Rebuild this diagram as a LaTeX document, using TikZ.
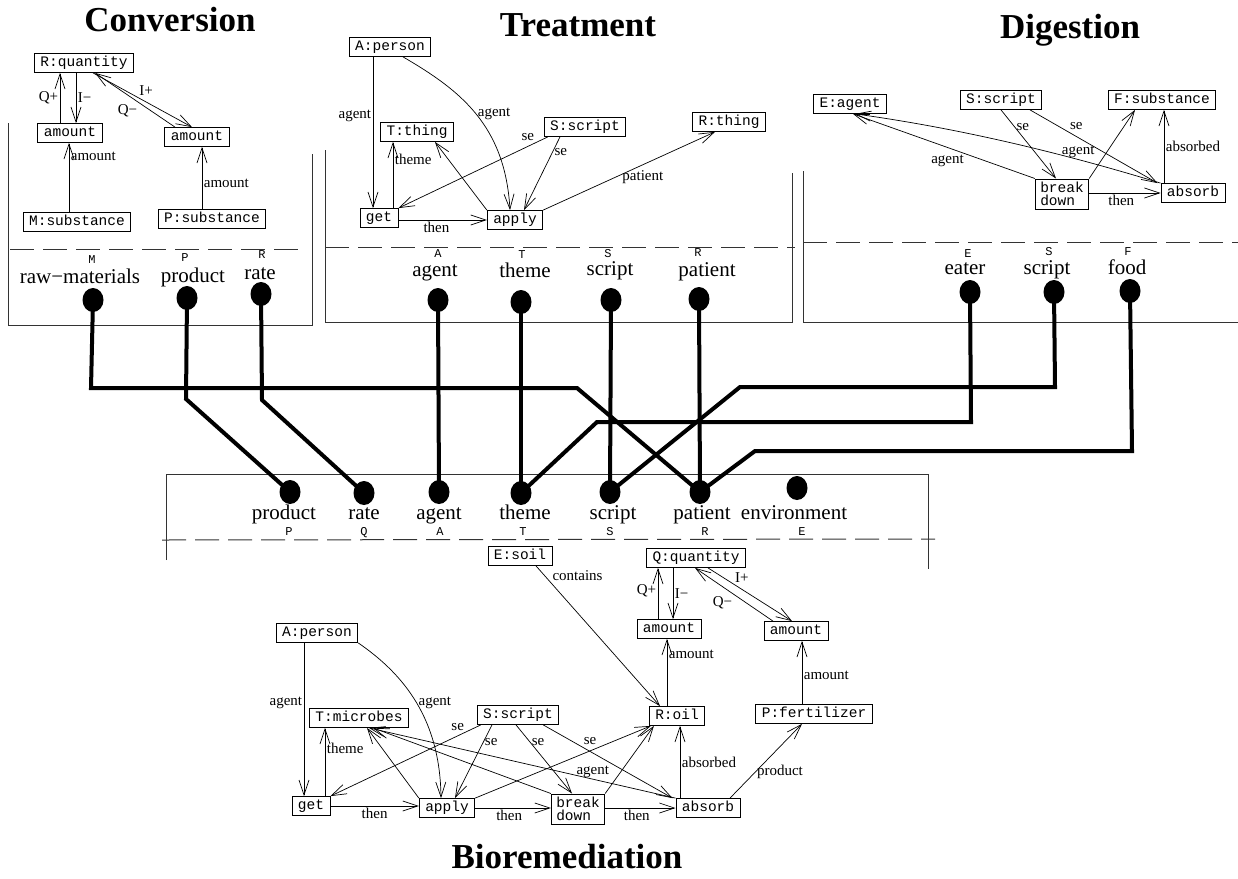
\documentclass[tikz,border=0pt]{standalone}
\usepackage{fontspec}
\setmainfont{Liberation Serif}
\newfontfamily\monof{Liberation Mono}
\usetikzlibrary{arrows.meta,shapes.geometric}
\tikzset{
  lab/.style={font=\fontsize{15}{15}\selectfont, inner sep=1.5pt},
  cbox/.style={draw, line width=0.8pt, font=\monof\fontsize{14.5}{14}\selectfont, inner xsep=6pt, inner ysep=0pt, text height=10pt, text depth=3pt, minimum height=19pt},
  cbox2/.style={draw, line width=0.8pt, font=\monof\fontsize{14.5}{13.5}\selectfont, inner xsep=5pt, inner ysep=3pt, align=left},
  arr/.style={line width=0.7pt, -{Straight Barb[length=15pt,width=10pt]}},
  frm/.style={line width=1pt, black!80},
  dashline/.style={line width=1pt, black!80, dash pattern=on 24pt off 9pt},
  pdot/.style={ellipse, fill=black, inner sep=0pt, minimum width=21pt, minimum height=24pt},
  thk/.style={line width=4pt},
  ltr/.style={font=\monof\fontsize{12}{12}\selectfont, anchor=base, inner sep=0pt},
  bigl/.style={font=\fontsize{21}{21}\selectfont, anchor=base, inner sep=0pt},
  ttl/.style={font=\bfseries\fontsize{35}{35}\selectfont, inner sep=0pt},
}
\begin{document}
\begin{tikzpicture}[x=1pt,y=-1pt]
\useasboundingbox (0,0) rectangle (1238,878);

% ================= Titles
\node[ttl] (t1) at (170,20) {Conversion};
\node[ttl] (t2) at (578,25) {Treatment};
\node[ttl] (t3) at (1070,30) {Digestion};
\node[ttl, anchor=base] (t4) at (567,868) {Bioremediation};

% ================= Conversion
\node[cbox] (rq) at (84,63) {R:quantity};
\node[cbox] (am1) at (70,133) {amount};
\node[cbox] (am2) at (197,137) {amount};
\node[cbox] (ms) at (77,222) {M:substance};
\node[cbox] (ps) at (212,219) {P:substance};
\draw[arr] ([xshift=-10pt]am1.north) -- ([xshift=-10pt]am1.north |- rq.south) node[lab,left,pos=0.5]{Q+};
\draw[arr] ([xshift=6pt]am1.north |- rq.south) -- ([xshift=6pt]am1.north) node[lab,right,pos=0.5]{I−};
\draw[arr] ([xshift=9pt]rq.south) -- ([xshift=-5pt]am2.north) node[lab,above right,pos=0.45]{I+};
\draw[arr] ([xshift=-22pt]am2.north) -- ([xshift=11pt]rq.south) node[lab,below left,pos=0.45]{Q−};
\draw[arr] ([xshift=-8pt]ms.north) -- ([xshift=-8pt]ms.north |- am1.south) node[lab,right,pos=0.8]{amount};
\draw[arr] ([xshift=-10pt]ps.north) -- ([xshift=-10pt]ps.north |- am2.south) node[lab,right,pos=0.42]{amount};
\draw[frm] (8,123) -- (8,325) -- (312,325) -- (312,154);
\draw[dashline] (10,249) -- (302,249);
\node[ltr] (cM) at (92,263) {M};
\node[bigl] (cRM) at (80,283) {raw−materials};
\node[ltr] (cP) at (185,261) {P};
\node[bigl] (cPR) at (193,282) {product};
\node[ltr] (cR) at (262,258) {R};
\node[bigl] (cRA) at (260,279) {rate};
\node[pdot] (cdm) at (93,300) {};
\node[pdot] (cdp) at (187,298) {};
\node[pdot] (cdr) at (261,294) {};

% ================= Treatment
\node[cbox] (tap) at (390,47) {A:person};
\node[cbox] (ttt) at (417,132) {T:thing};
\node[cbox] (tss) at (585,127) {S:script};
\node[cbox] (trt) at (729,122) {R:thing};
\node[cbox] (tgt) at (379,218) {get};
\node[cbox] (tapl) at (515,220) {apply};
\draw[arr] ([xshift=-6pt]tgt.north |- tap.south) -- ([xshift=-6pt]tgt.north) node[lab,left,pos=0.39]{agent};
\draw[arr] ([xshift=13pt]tap.south) .. controls (460,90) and (505,125) .. ([xshift=-5pt]tapl.north) node[lab,right,pos=0.5]{agent};
\draw[arr] ([xshift=14pt]tgt.north) -- ([xshift=14pt]tgt.north |- ttt.south) node[lab,right,pos=0.74]{theme};
\draw[arr] (tapl.north west) -- ([xshift=18pt]ttt.south);
\draw[arr] ([xshift=4pt]tss.south west) -- (tgt.north east) node[lab,above left,pos=0.08]{se};
\draw[arr] ([xshift=-25pt]tss.south) -- ([xshift=9pt]tapl.north) node[lab,right,pos=0.2]{se};
\draw[arr] (tapl.north east) -- ([xshift=-14pt]trt.south) node[lab,below=4pt,pos=0.58]{patient};
\draw[arr] (tgt.east |- tapl.west) -- (tapl.west) node[lab,below,pos=0.43]{then};
\draw[frm] (325,150) -- (325,322) -- (792,322) -- (792,173);
\draw[dashline] (325,247) -- (795,247);
\node[ltr] (tA) at (438,257) {A};
\node[bigl] (tAG) at (435,276) {agent};
\node[ltr] (tT) at (522,258) {T};
\node[bigl] (tTH) at (525,277) {theme};
\node[ltr] (tS) at (608,257) {S};
\node[bigl] (tSC) at (610,275) {script};
\node[ltr] (tR) at (698,256) {R};
\node[bigl] (tPA) at (707,276) {patient};
\node[pdot] (tda) at (438,300) {};
\node[pdot] (tdt) at (521,302) {};
\node[pdot] (tds) at (611,300) {};
\node[pdot] (tdr) at (699,299) {};

% ================= Digestion
\node[cbox] (dea) at (850,104) {E:agent};
\node[cbox] (dss) at (1001,100) {S:script};
\node[cbox] (dfs) at (1162,100) {F:substance};
\node[cbox2] (dbd) at (1062,194) {break\\down};
\node[cbox] (dab) at (1193,193) {absorb};
\draw[arr] (dbd.north west) -- ([xshift=3pt]dea.south) node[lab,below=6pt,pos=0.48]{agent};
\draw[arr] (dab.north west) .. controls (1059,152) and (957,128) .. ([xshift=5pt]dea.south) node[lab,above,pos=0.27]{agent};
\draw[arr] (dss.south) -- ([xshift=-6pt]dbd.north) node[lab,right,pos=0.25]{se};
\draw[arr] ([xshift=29pt]dss.south) -- ([xshift=-3pt]dab.north west) node[lab,above right,pos=0.3]{se};
\draw[arr] (dbd.north east) -- ([xshift=-27pt]dfs.south);
\draw[arr] ([xshift=-29pt]dab.north) -- ([xshift=-29pt]dab.north |- dfs.south) node[lab,right,pos=0.5]{absorbed};
\draw[arr] (dbd.east |- dab.west) -- (dab.west) node[lab,below,pos=0.45]{then};
\draw[frm] (803,171) -- (803,322) -- (1238,322);
\draw[dashline] (803,242) -- (1238,242);
\node[ltr] (dE) at (968,257) {E};
\node[bigl] (dEA) at (965,274) {eater};
\node[ltr] (dS) at (1049,255) {S};
\node[bigl] (dSC) at (1047,274) {script};
\node[ltr] (dF) at (1128,255) {F};
\node[bigl] (dFO) at (1127,274) {food};
\node[pdot] (dde) at (970,292) {};
\node[pdot] (dds) at (1054,292) {};
\node[pdot] (ddf) at (1130,291) {};

% ================= Middle (Bioremediation roles)
\draw[frm] (166,560) -- (166,474) -- (928,474) -- (928,569);
\draw[dashline] (162,540) -- (935,539);
\node[pdot] (mdp) at (290,492) {};
\node[pdot] (mdq) at (364,493) {};
\node[pdot] (mda) at (439,492) {};
\node[pdot] (mdt) at (521,493) {};
\node[pdot] (mds) at (610,492) {};
\node[pdot] (mdr) at (700,492) {};
\node[pdot] (mde) at (797,488) {};
\node[bigl] (mlp) at (284,519) {product};
\node[bigl] (mlq) at (364,519) {rate};
\node[bigl] (mla) at (439,519) {agent};
\node[bigl] (mlt) at (525,519) {theme};
\node[bigl] (mls) at (613,519) {script};
\node[bigl] (mlr) at (702,519) {patient};
\node[bigl] (mle) at (794,519) {environment};
\node[ltr] (mP) at (289,535) {P};
\node[ltr] (mQ) at (364,535) {Q};
\node[ltr] (mA) at (440,535) {A};
\node[ltr] (mT) at (523,535) {T};
\node[ltr] (mS) at (610,535) {S};
\node[ltr] (mR) at (705,535) {R};
\node[ltr] (mE) at (802,535) {E};

% ================= Thick role connectors
\draw[thk] (cdm.center) -- (91,388) -- (577,388) -- (mdr.center);
\draw[thk] (cdp.center) -- (186,399) -- (mdp.center);
\draw[thk] (cdr.center) -- (262,400) -- (mdq.center);
\draw[thk] (tda.center) -- (mda.center);
\draw[thk] (tdt.center) -- (mdt.center);
\draw[thk] (tds.center) -- (mds.center);
\draw[thk] (tdr.center) -- (mdr.center);
\draw[thk] (dde.center) -- (971,422) -- (597,422) -- (mdt.center);
\draw[thk] (dds.center) -- (1055,387) -- (740,387) -- (mds.center);
\draw[thk] (ddf.center) -- (1132,451) -- (755,451) -- (mdr.center);

% ================= Bioremediation graph
\node[cbox] (bes) at (520,556) {E:soil};
\node[cbox] (bq) at (696,558) {Q:quantity};
\node[cbox] (bam1) at (669,629) {amount};
\node[cbox] (bam2) at (796,631) {amount};
\node[cbox] (bro) at (677,716) {R:oil};
\node[cbox] (bpf) at (814,714) {P:fertilizer};
\node[cbox] (bab) at (708,808) {absorb};
\node[cbox2] (bbd) at (578,809) {break\\down};
\node[cbox] (bapl) at (447,808) {apply};
\node[cbox] (bgt) at (311,806) {get};
\node[cbox] (bap) at (317,633) {A:person};
\node[cbox] (btm) at (359,718) {T:microbes};
\node[cbox] (bss) at (518,715) {S:script};

\draw[arr] ([xshift=-7pt]bgt.north |- bap.south) -- ([xshift=-7pt]bgt.north) node[lab,left,pos=0.39]{agent};
\draw[arr] (bap.south east) .. controls (405,675) and (440,720) .. ([xshift=-6pt]bapl.north) node[lab,right,pos=0.5]{agent};
\draw[arr] ([xshift=14pt]bgt.north) -- ([xshift=14pt]bgt.north |- btm.south) node[lab,right,pos=0.7]{theme};
\draw[arr] (bapl.north west) -- ([xshift=8pt]btm.south);
\draw[arr] (bbd.north west) -- ([xshift=14pt]btm.south);
\draw[arr] (bab.north west) -- ([xshift=10pt]btm.south) node[lab,above,pos=0.27]{agent};
\draw[arr] ([xshift=4pt]bss.south west) -- (bgt.north east) node[lab,above left,pos=0.1]{se};
\draw[arr] ([xshift=-26pt]bss.south) -- ([xshift=8pt]bapl.north) node[lab,right,pos=0.24]{se};
\draw[arr] ([xshift=-2pt]bss.south) -- ([xshift=-6pt]bbd.north) node[lab,right,pos=0.25]{se};
\draw[arr] ([xshift=-16pt]bss.south east) -- ([xshift=-3pt]bab.north west) node[lab,above right,pos=0.3]{se};
\draw[arr] (bapl.north east) -- ([xshift=2pt]bro.south west);
\draw[arr] (bbd.north east) -- ([xshift=5pt]bro.south west);
\draw[arr] ([xshift=16pt]bes.south) -- ([xshift=-17pt]bro.north) node[lab,right=6pt,pos=0.07]{contains};
\draw[arr] ([xshift=-10pt]bro.north) -- ([xshift=-10pt]bro.north |- bam1.south) node[lab,right,pos=0.77]{amount};
\draw[arr] ([xshift=-11pt]bam1.north) -- ([xshift=-11pt]bam1.north |- bq.south) node[lab,left,pos=0.55]{Q+};
\draw[arr] ([xshift=4pt]bam1.north |- bq.south) -- ([xshift=4pt]bam1.north) node[lab,right,pos=0.5]{I−};
\draw[arr] ([xshift=12pt]bq.south) -- ([xshift=-4pt]bam2.north) node[lab,above right,pos=0.3]{I+};
\draw[arr] ([xshift=-23pt]bam2.north) -- ([xshift=-1pt]bq.south) node[lab,below left,pos=0.5]{Q−};
\draw[arr] ([xshift=-12pt]bpf.north) -- ([xshift=-12pt]bpf.north |- bam2.south) node[lab,right,pos=0.45]{amount};
\draw[arr] ([xshift=-28pt]bab.north) -- ([xshift=-28pt]bab.north |- bro.south) node[lab,right,pos=0.5]{absorbed};
\draw[arr] ([xshift=22pt]bab.north) -- ([xshift=-12pt]bpf.south) node[lab,right,pos=0.35]{product};
\draw[arr] (bgt.east) -- (bgt.east -| bapl.west) node[lab,below,pos=0.5]{then};
\draw[arr] (bapl.east) -- (bapl.east -| bbd.west) node[lab,below,pos=0.45]{then};
\draw[arr] (bapl.east -| bbd.east) -- (bab.west) node[lab,below,pos=0.45]{then};
\end{tikzpicture}
\end{document}
